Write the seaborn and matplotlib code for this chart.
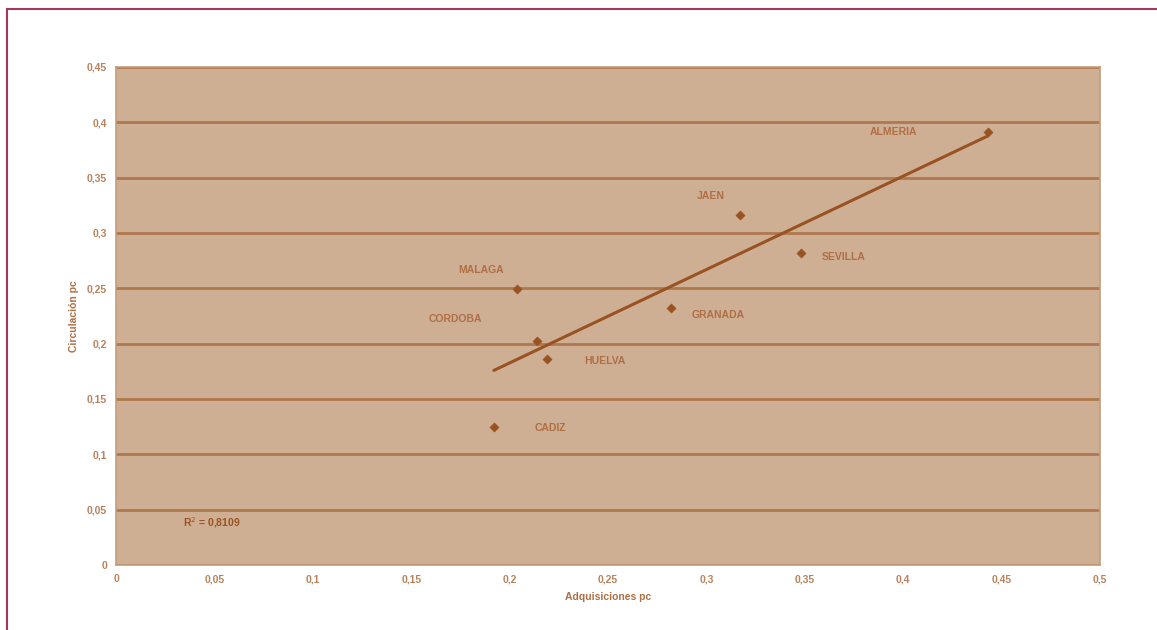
import numpy as np
import pandas as pd
import matplotlib
matplotlib.use("Agg")
import matplotlib.pyplot as plt
import seaborn as sns
from matplotlib.patches import Rectangle
from matplotlib.ticker import FuncFormatter, MultipleLocator

#%% data
provincias = ["ALMERIA", "JAEN", "SEVILLA", "MALAGA", "GRANADA", "CORDOBA", "HUELVA", "CADIZ"]
adquisiciones = [0.443, 0.317, 0.348, 0.204, 0.282, 0.214, 0.219, 0.192]
circulacion = [0.391, 0.316, 0.282, 0.249, 0.232, 0.202, 0.186, 0.125]
r2_text = "R$^2$ = 0,8109"

df = pd.DataFrame({"Adquisiciones pc": adquisiciones,
                   "Circulación pc": circulacion,
                   "Provincia": provincias})

# label offsets in points (dx, dy)
label_pos = {
    "ALMERIA": (-68, 0),
    "JAEN": (-21, 14),
    "SEVILLA": (31, -3),
    "MALAGA": (-26, 14),
    "GRANADA": (34, -5),
    "CORDOBA": (-59, 16),
    "HUELVA": (42, -1),
    "CADIZ": (41, -1),
}

#%% colors
bg = "#CFAF94"
grid_c = "#B0784F"
mark_c = "#995322"
text_c = "#B06E45"
tick_c = "#B8835E"
frame_c = "#A3385C"

sns.set_style("white")
plt.rcParams["font.family"] = ["Liberation Sans", "DejaVu Sans"]

fig = plt.figure(figsize=(11.57, 6.30), dpi=100)
ax = fig.add_axes([0.1003, 0.1032, 0.8504, 0.7905])
ax.set_facecolor(bg)

sns.regplot(data=df, x="Adquisiciones pc", y="Circulación pc", ax=ax,
            scatter=False, ci=None, truncate=True,
            line_kws={"color": mark_c, "lw": 2.2, "solid_capstyle": "round", "zorder": 4})
sns.scatterplot(data=df, x="Adquisiciones pc", y="Circulación pc", ax=ax,
                marker="D", s=22, color=mark_c, edgecolor=mark_c, zorder=5)

for name, x, y in zip(provincias, adquisiciones, circulacion):
    dx, dy = label_pos[name]
    ax.annotate(name, (x, y), xytext=(dx, dy), textcoords="offset points",
                ha="center", va="center", fontsize=7.5, color=text_c, fontweight="bold")

ax.text(0.034, 0.038, r2_text, transform=ax.transData, fontsize=7.5,
        fontweight="bold", color=mark_c, ha="left", va="center")

ax.set_xlim(0, 0.5)
ax.set_ylim(0, 0.45)
ax.xaxis.set_major_locator(MultipleLocator(0.05))
ax.yaxis.set_major_locator(MultipleLocator(0.05))
fmt = FuncFormatter(lambda v, p: ("%g" % round(v, 2)).replace(".", ","))
ax.xaxis.set_major_formatter(fmt)
ax.yaxis.set_major_formatter(fmt)

ax.grid(axis="y", color=grid_c, lw=2)
ax.grid(axis="x", visible=False)
ax.set_axisbelow(True)
for s in ax.spines.values():
    s.set_color("#C49C7C")
    s.set_linewidth(1.2)

ax.tick_params(axis="both", colors=tick_c, labelsize=7.5, length=3, width=0.8,
               labelcolor=tick_c)
for lab in ax.get_xticklabels() + ax.get_yticklabels():
    lab.set_fontweight("bold")
ax.set_xlabel("Adquisiciones pc", fontsize=7.5, fontweight="bold", color=text_c, labelpad=6)
ax.set_ylabel("Circulación pc", fontsize=7.5, fontweight="bold", color=text_c, labelpad=6)

# outer frame
fig.patches.append(Rectangle((7 / 1157, -0.1), 1.2, (1 - 9.5 / 630) + 0.1,
                             transform=fig.transFigure, fill=False,
                             edgecolor=frame_c, lw=1.5))

fig.savefig("out.png", dpi=100)
